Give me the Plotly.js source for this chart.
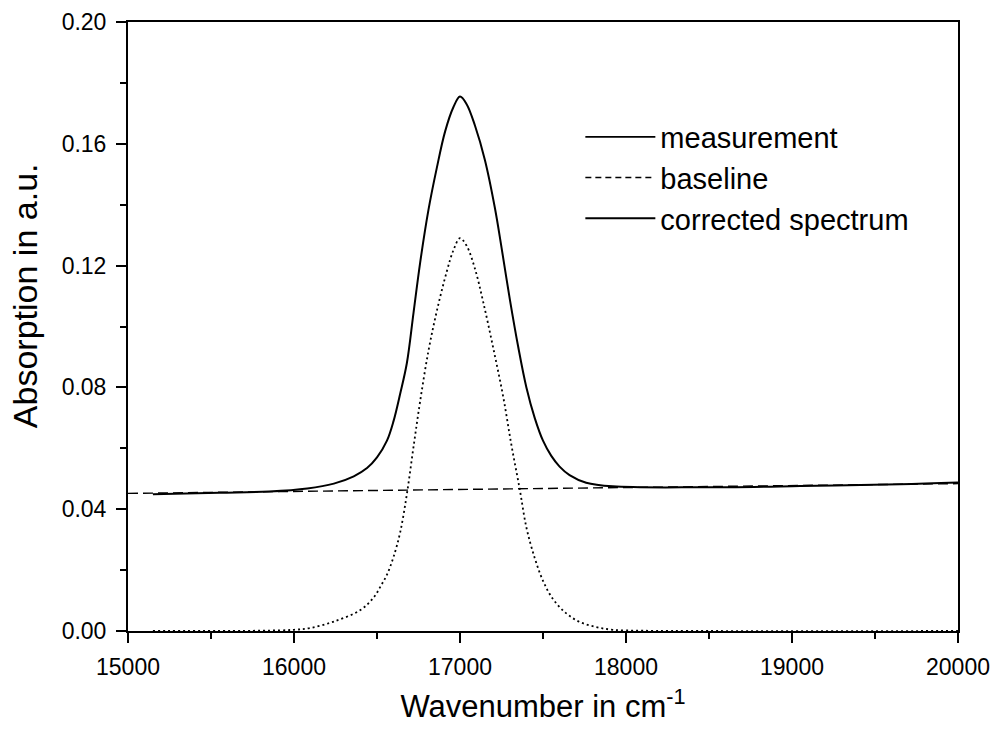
<!DOCTYPE html>
<html>
<head>
<meta charset="utf-8">
<script src="https://cdn.plot.ly/plotly-3.0.1.min.js"></script>
<style>html,body{margin:0;padding:0;background:#fff;}#chart{width:996px;height:731px;}</style>
</head>
<body>
<div id="chart"></div>
<script>
var measX = [15150, 15550, 15850, 16080, 16240, 16360, 16440, 16500, 16560, 16600, 16640, 16680, 16720, 16760, 16810, 16860, 16910, 16960, 17000, 17040, 17090, 17150, 17210, 17250, 17300, 17350, 17400, 17450, 17500, 17550, 17600, 17660, 17760, 17920, 18450, 19050, 19650, 20000];
var measY = [0.0449, 0.0454, 0.0458, 0.0468, 0.0484, 0.0508, 0.0535, 0.0570, 0.0625, 0.0690, 0.0780, 0.0880, 0.1045, 0.1210, 0.1383, 0.1520, 0.1640, 0.1720, 0.1755, 0.1730, 0.1660, 0.1547, 0.1390, 0.1260, 0.1090, 0.0935, 0.0800, 0.0700, 0.0625, 0.0575, 0.0540, 0.0512, 0.0487, 0.0475, 0.0472, 0.0476, 0.0482, 0.0488];

// Baseline (straight dashed line)
var baseX = [15000, 20000];
var baseY = [0.0452, 0.0484];

// Corrected spectrum (measurement minus baseline)
var corrX = [15150, 15800, 16000, 16100, 16240, 16400, 16480, 16525, 16560, 16600, 16640, 16680, 16720, 16760, 16810, 16860, 16920, 16960, 17000, 17040, 17090, 17140, 17200, 17260, 17310, 17360, 17400, 17450, 17500, 17560, 17640, 17720, 17820, 17920, 18100, 18500, 20000];
var corrY = [0.0, 0.0001, 0.0004, 0.0010, 0.0031, 0.0069, 0.0110, 0.0150, 0.0185, 0.0244, 0.0325, 0.0450, 0.0605, 0.0755, 0.0920, 0.1050, 0.1180, 0.1250, 0.1290, 0.1265, 0.1190, 0.1080, 0.0930, 0.0770, 0.0610, 0.0465, 0.0340, 0.0240, 0.0165, 0.0105, 0.0058, 0.0030, 0.0013, 0.0004, 0.0001, 0.0, 0.0];

var seriesNames = ["measurement", "baseline", "corrected spectrum"];
var xTickVals = [15000, 16000, 17000, 18000, 19000, 20000];
var yTickVals = [0.00, 0.04, 0.08, 0.12, 0.16, 0.20];
var xTitle = "Wavenumber in cm<sup>-1</sup>";
var yTitle = "Absorption in a.u.";

var FONT = "Liberation Sans, Arial, Helvetica, sans-serif";

var traces = [
  {x: measX, y: measY, mode: "lines", line: {color: "#000", width: 2, shape: "spline", smoothing: 1}, showlegend: false, hoverinfo: "skip"},
  {x: baseX, y: baseY, mode: "lines", line: {color: "#000", width: 1.4, dash: "10px,5px"}, showlegend: false, hoverinfo: "skip"},
  {x: corrX, y: corrY, mode: "lines", line: {color: "#000", width: 1.8, dash: "2px,3px", shape: "spline", smoothing: 1}, showlegend: false, hoverinfo: "skip"},
  // legend entries (legend of the original shows solid / dashed / solid)
  {x: [null], y: [null], mode: "lines", name: seriesNames[0], line: {color: "#000", width: 1.8}},
  {x: [null], y: [null], mode: "lines", name: seriesNames[1], line: {color: "#000", width: 1.4, dash: "6px,4px"}},
  {x: [null], y: [null], mode: "lines", name: seriesNames[2], line: {color: "#000", width: 1.8}}
];

var axisCommon = {
  showline: true, linecolor: "#000", linewidth: 2, mirror: true,
  ticks: "outside", ticklen: 10, tickwidth: 2, tickcolor: "#000",
  showgrid: false, zeroline: false,
  tickfont: {family: FONT, size: 23, color: "#000"}
};

var layout = {
  width: 996, height: 731,
  margin: {l: 128, r: 38, t: 22, b: 100},
  paper_bgcolor: "#fff", plot_bgcolor: "#fff",
  font: {family: FONT, color: "#000"},
  xaxis: Object.assign({}, axisCommon, {
    range: [15000, 20000], tickvals: xTickVals, ticktext: xTickVals.map(String),
    ticklabelstandoff: 4,
    minor: {dtick: 500, tick0: 15000, ticks: "outside", ticklen: 6, tickwidth: 2, tickcolor: "#000", showgrid: false},
    title: {text: xTitle, font: {family: FONT, size: 31, color: "#000"}, standoff: 17}
  }),
  yaxis: Object.assign({}, axisCommon, {
    range: [0, 0.2], tickvals: yTickVals, ticktext: yTickVals.map(function(v){return v.toFixed(2);}),
    ticklabelstandoff: 5,
    minor: {dtick: 0.02, tick0: 0, ticks: "outside", ticklen: 6, tickwidth: 2, tickcolor: "#000", showgrid: false}
  }),
  annotations: [{
    text: yTitle, textangle: -90, showarrow: false,
    xref: "paper", yref: "paper", x: -0.124, y: 0.55, xanchor: "center", yanchor: "middle",
    font: {family: FONT, size: 34, color: "#000"}
  }],
  legend: {
    x: 0.545, y: 0.853, xanchor: "left", yanchor: "top",
    bgcolor: "rgba(0,0,0,0)", borderwidth: 0,
    font: {family: FONT, size: 29, color: "#000"},
    itemwidth: 70, tracegroupgap: 0
  },
  showlegend: true
};

Plotly.newPlot("chart", traces, layout, {staticPlot: true, displayModeBar: false});
</script>
</body>
</html>
